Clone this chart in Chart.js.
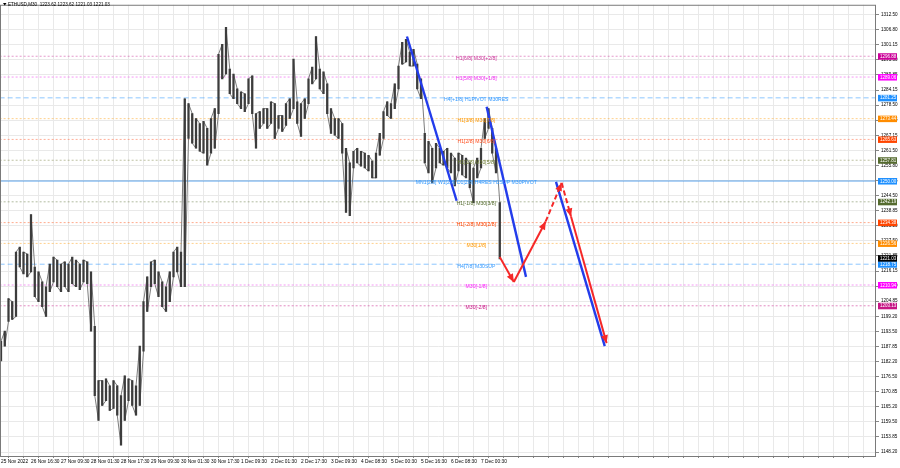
<!DOCTYPE html>
<html><head><meta charset="utf-8">
<script src="https://cdn.jsdelivr.net/npm/chart.js@4/dist/chart.umd.min.js"></script>
<style>html,body{margin:0;padding:0;background:#fff}#wrap{width:900px;height:468px}</style>
</head><body><div id="wrap"><canvas id="c" width="900" height="468"></canvas></div>
<script>
// ---- DATA ----
const titleText = 'ETHUSD,M30  1223.62 1223.62 1221.03 1221.03';
const barsPerSample = 4; // each sample covers 4 M30 bars
const highs = [1189.8,1193.6,1205.8,1204.7,1223.3,1225.2,1223.3,1222.6,1237.4,1217.7,
1215.9,1212.1,1210.3,1218.8,1221.4,1220.3,1218.8,1219.6,1218.8,1221.4,
1220.3,1218.8,1220.3,1219.6,1215.9,1195.4,1175.0,1175.0,1175.7,1173.1,
1175.0,1173.1,1169.4,1176.8,1175.7,1175.0,1173.1,1188.0,1204.7,1214.0,
1219.6,1220.3,1215.9,1212.1,1210.3,1215.9,1223.3,1225.2,1223.3,1280.9,
1279.1,1275.3,1273.5,1271.6,1272.4,1269.8,1273.5,1277.2,1297.6,1301.4,
1307.7,1292.1,1290.2,1284.6,1283.5,1282.8,1288.4,1289.5,1275.3,1276.1,
1277.2,1277.2,1279.8,1279.1,1274.6,1274.6,1279.1,1280.9,1295.8,1279.8,
1279.1,1280.9,1288.4,1292.8,1304.3,1292.1,1291.0,1286.5,1277.2,1273.5,
1273.5,1271.6,1262.3,1256.8,1261.2,1262.3,1261.2,1260.5,1259.7,1257.5,
1260.5,1267.9,1276.1,1279.8,1279.1,1286.5,1293.2,1302.1,1303.2,1298.4,
1299.5,1293.9,1288.4,1267.9,1264.9,1262.3,1264.2,1262.3,1261.2,1262.3,
1260.5,1258.6,1260.5,1259.7,1258.6,1256.8,1254.9,1258.6,1262.3,1273.5,
1277.2,1269.8,1262.3,1241.9];
const lows = [1182.4,1188.0,1197.3,1198.0,1199.1,1217.7,1215.1,1214.0,1215.9,1206.6,
1204.7,1202.8,1199.1,1208.4,1212.1,1210.3,1208.4,1210.3,1208.4,1211.4,
1210.3,1209.2,1212.1,1211.4,1193.6,1169.4,1160.1,1165.7,1167.5,1163.8,
1164.6,1162.0,1150.8,1160.1,1167.5,1165.7,1162.0,1165.7,1186.1,1201.0,
1210.3,1211.4,1206.6,1202.8,1201.0,1204.7,1214.0,1215.9,1210.3,1210.3,
1266.0,1264.2,1262.3,1261.2,1260.5,1256.0,1260.5,1262.3,1275.3,1288.4,
1290.2,1282.8,1280.9,1279.1,1277.2,1276.1,1279.1,1275.3,1262.3,1269.8,
1271.6,1269.8,1271.6,1266.0,1269.8,1268.6,1270.9,1273.5,1277.2,1271.6,
1266.8,1273.5,1279.1,1286.5,1288.4,1284.6,1282.8,1275.3,1267.9,1267.2,
1266.0,1260.5,1238.2,1237.0,1254.9,1256.8,1255.6,1254.9,1253.8,1251.2,
1251.2,1259.7,1266.0,1274.6,1273.5,1277.2,1284.6,1293.9,1294.7,1293.2,
1293.2,1284.6,1280.9,1256.8,1253.0,1249.3,1254.9,1256.8,1256.0,1254.9,
1253.0,1248.2,1253.8,1252.3,1251.2,1247.5,1241.9,1251.2,1254.9,1266.0,
1269.8,1260.5,1253.0,1220.7];
const timeLabels = ['25 Nov 2022','26 Nov 16:30','27 Nov 09:30','28 Nov 01:30','28 Nov 17:30',
'29 Nov 09:30','30 Nov 01:30','30 Nov 17:30','1 Dec 09:30','2 Dec 01:30','2 Dec 17:30',
'3 Dec 09:30','4 Dec 08:30','5 Dec 00:30','5 Dec 16:30','6 Dec 08:30','7 Dec 00:30'];
const barsPerTimeLabel = 32;
const priceTicks = [1312.50,1306.80,1301.15,1295.50,1289.85,1284.15,1278.50,1272.85,1267.15,
1261.50,1255.80,1250.15,1244.50,1238.85,1233.20,1227.50,1221.85,1216.15,1210.50,1204.85,
1199.20,1193.50,1187.85,1182.20,1176.50,1170.85,1165.20,1159.50,1153.85,1148.20];
const levels = [1296.88,1289.06,1281.25,1273.44,1265.63,1257.81,1250.00,1242.19,1234.38,1226.56,1218.75,1210.94,1203.13];
const levelNames = ['H1[6/8] M30[+2/8]','H1[5/8] M30[+1/8]','H4[+1/8] H1PIVOT M30RES','H1[3/8] M30[7/8]',
'H1[2/8] M30[6/8]','H1[1/8] M30[5/8]','MN1[2/8] W1[2/8] D1[2/8] H4RES H1SUP M30PIVOT','H1[-1/8] M30[3/8]',
'H1[-2/8] M30[2/8]','M30[1/8]','H4[7/8] M30SUP','M30[-1/8]','M30[-2/8]'];
const lastPrice = 1221.03;
// trend lines (bar index, price)
const blueTrend1 = [[433,1304.3],[486,1242.6]];
const blueTrend2 = [[518,1277.9],[560,1214.0]];
const blueTrend3 = [[592,1249.7],[644,1188.0]];
const redPath1 = [[532,1221.5],[547,1212.1]];
const redPath2 = [[547,1212.1],[581,1234.8]];
const redPath3 = [[581,1234.8],[598,1249.3]];
const redPath4 = [[598,1249.3],[608,1236.7]];
const redPath5 = [[608,1236.7],[646,1189.1]];

// ---- STYLES ----
const levelLineColors = ['rgba(204,51,153,0.5)','rgba(238,51,238,0.5)','rgba(30,144,255,0.5)','rgba(255,153,0,0.45)',
'rgba(255,80,30,0.45)','rgba(110,120,50,0.45)','rgba(50,140,230,0.8)','rgba(85,107,47,0.45)',
'rgba(255,69,0,0.45)','rgba(255,153,0,0.45)','rgba(30,144,255,0.5)','rgba(238,51,238,0.5)','rgba(199,21,133,0.5)'];
const levelTextColors = ['#cc3399','#ee33ee','#3399ff','#ff9900','#ff5020','#6b7a30','#3399ff','#556b2f','#ff4500','#ff9900','#3399ff','#ff22ff','#c71585'];
const badgeColors = ['#cc0099','#ff00ff','#1e90ff','#ff8c00','#ff4500','#556b2f','#1e90ff','#556b2f','#ff4500','#ff8c00','#1e90ff','#ff00ff','#c71585'];
const levelDash = [[2,2],[2,2],[5,3],[2,2],[2,2],[2,2],[],[2,2],[2,2],[2,2],[5,3],[2,2],[2,2]];
const FONT = "'Liberation Sans', Arial, sans-serif";
const pxPerBar = 0.9375;
const labelBar = 507;

const pts = a => a.map(p => ({x:p[0], y:p[1]}));
const datasets = [];
datasets.push({type:'bar', data: highs.map((h,i)=>({x:i*barsPerSample, y:[lows[i],h]})),
  backgroundColor:'#3c3c3c', barThickness:1.6, order:10});
// price trace: walk through each sample's range (low/high) to give a continuous bar-chart look
const trace = [];
highs.forEach((h,i)=>{ const x=i*barsPerSample; if(i%2===0){trace.push({x,y:lows[i]},{x,y:h});} else {trace.push({x,y:h},{x,y:lows[i]});} });
datasets.push({type:'line', data:trace, borderColor:'rgba(110,110,110,0.9)', borderWidth:1, pointRadius:0, order:11});
levels.forEach((L,i)=>{
  datasets.push({type:'line', data:[{x:-10,y:L},{x:1000,y:L}], borderColor:levelLineColors[i],
    borderWidth:1, borderDash:levelDash[i], pointRadius:0, order:20});
});
const blue = 'rgb(35,60,235)', red = 'rgb(245,40,40)';
[blueTrend1,blueTrend2,blueTrend3].forEach(t=>datasets.push({type:'line', data:pts(t), borderColor:blue, borderWidth:2.4, pointRadius:0, order:2}));
[[redPath1,false],[redPath2,false],[redPath3,true],[redPath4,true],[redPath5,false]].forEach(([t,d])=>
  datasets.push({type:'line', data:pts(t), borderColor:red, borderWidth:2, borderDash:d?[5,3]:[], pointRadius:0, order:1, arrowHead:true}));

const overlay = {
  id:'overlay',
  beforeDraw(chart){
    const {ctx} = chart; ctx.save(); ctx.fillStyle='#fff'; ctx.fillRect(0,0,chart.width,chart.height); ctx.restore();
  },
  afterDatasetsDraw(chart){
    const {ctx, chartArea:a, scales:{x,y}} = chart;
    ctx.save();
    chart.data.datasets.forEach((ds,i)=>{
      if(!ds.arrowHead) return;
      const m = chart.getDatasetMeta(i).data; const p1=m[m.length-2], p2=m[m.length-1];
      const ang = Math.atan2(p2.y-p1.y, p2.x-p1.x);
      ctx.fillStyle = ds.borderColor; ctx.beginPath();
      ctx.moveTo(p2.x,p2.y);
      ctx.lineTo(p2.x-8*Math.cos(ang)+3.5*Math.sin(ang), p2.y-8*Math.sin(ang)-3.5*Math.cos(ang));
      ctx.lineTo(p2.x-8*Math.cos(ang)-3.5*Math.sin(ang), p2.y-8*Math.sin(ang)+3.5*Math.cos(ang));
      ctx.closePath(); ctx.fill();
    });
    ctx.font = '5.1px '+FONT; ctx.textAlign='center'; ctx.textBaseline='middle';
    levels.forEach((L,i)=>{ ctx.fillStyle = levelTextColors[i]; ctx.fillText(levelNames[i], x.getPixelForValue(labelBar), y.getPixelForValue(L)+2); });
    ctx.strokeStyle='#7a7a7a'; ctx.lineWidth=1;
    ctx.strokeRect(a.left-0.5, a.top+0.5, a.right-a.left, a.bottom-a.top);
    ctx.fillStyle='#000'; ctx.beginPath(); ctx.moveTo(3,3); ctx.lineTo(6.5,3); ctx.lineTo(4.75,5.5); ctx.closePath(); ctx.fill();
    ctx.font='4.6px '+FONT; ctx.textAlign='left'; ctx.textBaseline='middle'; ctx.fillText(titleText, 8, 4.5);
    ctx.font='4.5px '+FONT; ctx.textAlign='left';
    const badge=(v,c)=>{ const py=y.getPixelForValue(v); ctx.fillStyle=c; ctx.fillRect(a.right+2, py-3, 19, 6.5); ctx.fillStyle='#fff'; ctx.fillText(v.toFixed(2), a.right+4, py+0.3); };
    levels.forEach((L,i)=>badge(L,badgeColors[i]));
    badge(lastPrice,'#000');
    ctx.restore();
  }
};

new Chart(document.getElementById('c'), {
  type:'bar',
  data:{datasets},
  options:{
    responsive:false, devicePixelRatio:1, animation:false,
    layout:{padding:{left:1,top:0,right:0,bottom:0}},
    plugins:{legend:{display:false}, tooltip:{enabled:false}},
    scales:{
      x:{type:'linear', min:0, max:875/pxPerBar, offset:false,
        afterBuildTicks(s){ const t=[]; for(let v=0; v<=s.max; v+=barsPerTimeLabel/2) t.push({value:v}); s.ticks=t; },
        afterFit(s){ s.height=12; },
        grid:{color:'#e9e9e9', tickColor:'#888', tickLength:2, drawOnChartArea:true},
        border:{display:false},
        ticks:{autoSkip:false, maxRotation:0, align:'start', padding:1, color:'#000', font:{size:4.8, family:FONT},
          callback(v){ const k=v/barsPerTimeLabel; return (Number.isInteger(k) && k<timeLabels.length)? timeLabels[k] : ''; }}
      },
      y:{type:'linear', position:'right', min:1146.70, max:1316.22,
        afterBuildTicks(s){ s.ticks = priceTicks.map(v=>({value:v})); },
        afterFit(s){ s.width=24; },
        grid:{color:'#e9e9e9', tickColor:'#888', tickLength:3},
        border:{display:false},
        ticks:{autoSkip:false, padding:2, color:'#000', font:{size:4.6, family:FONT}, callback:v=>Number(v).toFixed(2)}
      }
    }
  },
  plugins:[overlay]
});
</script></body></html>
